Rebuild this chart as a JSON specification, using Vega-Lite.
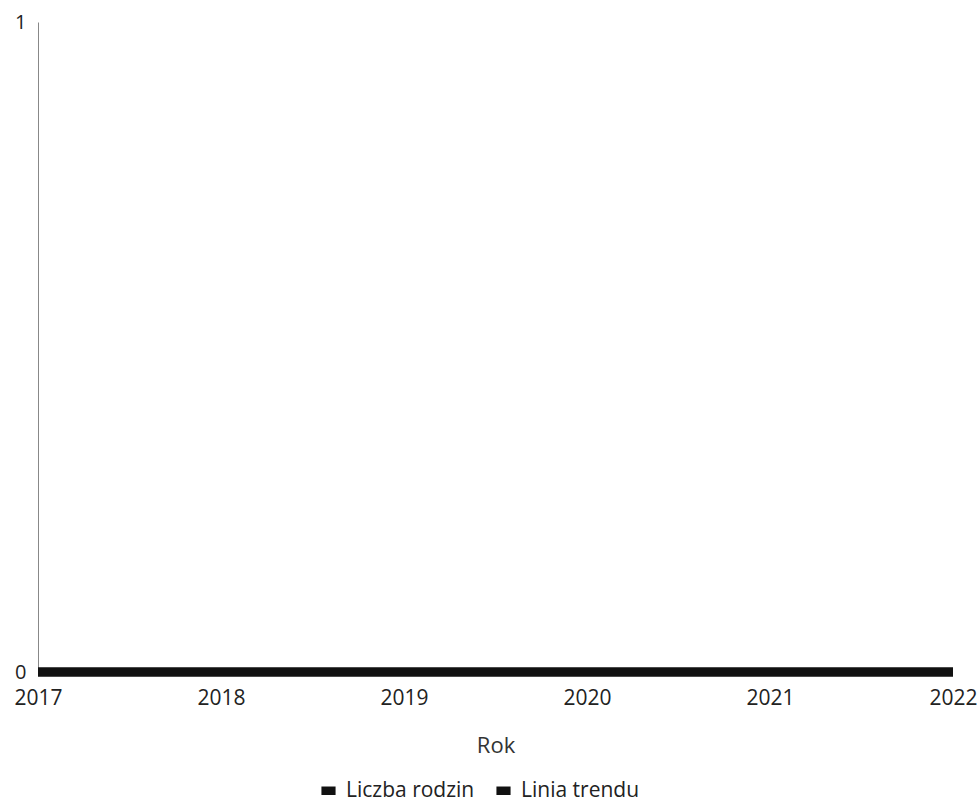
{
  "$schema": "https://vega.github.io/schema/vega-lite/v6.json",
  "autosize": {"type": "none"},
  "width": 915,
  "height": 650,
  "padding": {"left": 38, "top": 22, "right": 26, "bottom": 132},
  "background": "white",
  "config": {
    "font": "Open Sans",
    "view": {"stroke": null}
  },
  "data": {
    "values": [
      {"Rok": 2017, "seria": "Liczba rodzin", "wartosc": 0},
      {"Rok": 2018, "seria": "Liczba rodzin", "wartosc": 0},
      {"Rok": 2019, "seria": "Liczba rodzin", "wartosc": 0},
      {"Rok": 2020, "seria": "Liczba rodzin", "wartosc": 0},
      {"Rok": 2021, "seria": "Liczba rodzin", "wartosc": 0},
      {"Rok": 2022, "seria": "Liczba rodzin", "wartosc": 0},
      {"Rok": 2017, "seria": "Linia trendu", "wartosc": 0},
      {"Rok": 2018, "seria": "Linia trendu", "wartosc": 0},
      {"Rok": 2019, "seria": "Linia trendu", "wartosc": 0},
      {"Rok": 2020, "seria": "Linia trendu", "wartosc": 0},
      {"Rok": 2021, "seria": "Linia trendu", "wartosc": 0},
      {"Rok": 2022, "seria": "Linia trendu", "wartosc": 0}
    ]
  },
  "mark": {"type": "line", "strokeWidth": 9, "strokeCap": "butt"},
  "encoding": {
    "x": {
      "field": "Rok",
      "type": "quantitative",
      "scale": {"domain": [2017, 2022], "nice": false, "zero": false},
      "axis": {
        "values": [2017, 2018, 2019, 2020, 2021, 2022],
        "format": "d",
        "title": "Rok",
        "titleFont": "Open Sans",
        "titleFontSize": 22,
        "titleFontWeight": "normal",
        "titleColor": "#333",
        "titlePadding": 27,
        "labelFontSize": 21,
        "labelColor": "#222",
        "labelPadding": 15,
        "labelOverlap": false,
        "labelFlush": false,
        "domain": false,
        "ticks": false,
        "grid": false
      }
    },
    "y": {
      "field": "wartosc",
      "type": "quantitative",
      "scale": {"domain": [0, 1], "nice": false},
      "axis": {
        "values": [0, 1],
        "format": "d",
        "title": null,
        "labelFontSize": 20,
        "labelColor": "#222",
        "labelPadding": 12,
        "domainColor": "#888",
        "domainWidth": 1,
        "ticks": false,
        "grid": false
      }
    },
    "color": {
      "field": "seria",
      "type": "nominal",
      "scale": {"domain": ["Liczba rodzin", "Linia trendu"], "range": ["#111111", "#111111"]},
      "legend": {
        "orient": "none",
        "legendX": 280,
        "legendY": 758,
        "direction": "horizontal",
        "title": null,
        "labelFontSize": 21,
        "labelColor": "#222",
        "labelOffset": 7,
        "symbolType": "M-1,-0.6H1V0.6H-1Z",
        "symbolSize": 200,
        "symbolFillColor": "#111111",
        "symbolStrokeWidth": 0,
        "columnPadding": 18
      }
    }
  }
}
